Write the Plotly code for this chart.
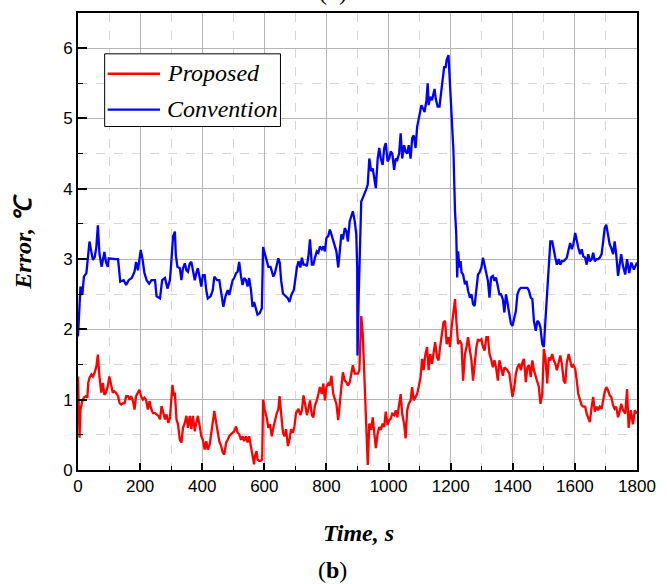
import plotly.graph_objects as go

# Time stamps (s) and temperature error (deg C) for the conventional controller
conv_t = [0, 8, 14, 19, 27, 33, 37, 43, 48, 54, 59, 64, 69, 76, 81, 85, 90, 96, 99, 110, 120, 129, 136, 147, 155, 163,
          173, 182, 187, 193, 198, 202, 208, 214, 221, 229, 237, 248, 253, 264, 271, 280, 288, 296, 301, 306, 312, 315,
          320, 328, 333, 338, 344, 349, 354, 360, 365, 370, 376, 381, 386, 392, 397, 402, 408, 413, 418, 427, 434, 439,
          448, 455, 461, 468, 475, 482, 487, 493, 498, 503, 509, 514, 519, 525, 530, 535, 541, 546, 551, 557, 562, 567,
          572, 578, 585, 592, 596, 601, 608, 613, 620, 629, 634, 640, 645, 650, 654, 660, 668, 676, 681, 687, 695, 700,
          705, 710, 716, 721, 726, 732, 737, 742, 747, 753, 758, 763, 769, 774, 779, 785, 790, 795, 800, 806, 811, 816,
          822, 827, 832, 838, 843, 848, 853, 859, 864, 869, 875, 880, 885, 891, 896, 899, 900, 904, 909, 912, 917, 922,
          928, 933, 938, 944, 949, 954, 959, 965, 970, 975, 981, 986, 991, 997, 1002, 1007, 1012, 1018, 1023, 1028,
          1034, 1039, 1044, 1050, 1055, 1060, 1065, 1071, 1076, 1081, 1087, 1092, 1097, 1103, 1106, 1111, 1116, 1122,
          1126, 1129, 1134, 1140, 1145, 1148, 1152, 1158, 1164, 1169, 1175, 1179, 1184, 1187, 1193, 1197, 1203, 1209,
          1214, 1218, 1221, 1224, 1228, 1232, 1235, 1240, 1246, 1251, 1256, 1262, 1267, 1272, 1277, 1283, 1288, 1293,
          1299, 1304, 1309, 1315, 1320, 1325, 1330, 1336, 1341, 1346, 1352, 1357, 1362, 1368, 1373, 1378, 1383, 1389,
          1394, 1399, 1405, 1410, 1415, 1421, 1426, 1436, 1447, 1452, 1458, 1463, 1468, 1474, 1479, 1484, 1489, 1495,
          1500, 1505, 1511, 1516, 1521, 1527, 1532, 1537, 1542, 1548, 1553, 1558, 1564, 1569, 1574, 1580, 1585, 1590,
          1595, 1601, 1606, 1611, 1617, 1622, 1627, 1633, 1638, 1643, 1648, 1654, 1659, 1664, 1670, 1675, 1680, 1686,
          1691, 1696, 1701, 1707, 1712, 1717, 1723, 1728, 1733, 1739, 1744, 1749, 1755, 1762, 1768, 1775, 1782, 1790,
          1800]
conv_err = [1.90, 2.61, 2.49, 2.75, 2.80, 3.13, 3.25, 3.10, 2.99, 3.03, 3.17, 3.48, 3.08, 2.89, 2.99, 3.10, 2.96, 2.89,
            3.01, 3.00, 3.00, 3.00, 2.68, 2.70, 2.63, 2.70, 2.73, 2.82, 2.96, 2.84, 2.99, 3.13, 2.99, 2.80, 2.70, 2.65,
            2.70, 2.70, 2.47, 2.44, 2.70, 2.73, 2.58, 2.70, 2.99, 3.32, 3.39, 3.06, 2.89, 2.87, 2.70, 2.87, 2.94, 2.84,
            2.82, 2.94, 2.96, 2.82, 2.70, 2.80, 2.87, 2.73, 2.61, 2.77, 2.77, 2.56, 2.44, 2.47, 2.56, 2.75, 2.70, 2.70,
            2.51, 2.32, 2.47, 2.56, 2.49, 2.63, 2.70, 2.73, 2.80, 2.82, 2.96, 2.75, 2.63, 2.73, 2.70, 2.61, 2.73, 2.56,
            2.32, 2.39, 2.30, 2.21, 2.23, 2.30, 3.17, 3.08, 2.96, 2.89, 2.89, 2.75, 2.80, 2.94, 3.01, 2.94, 2.70, 2.51,
            2.47, 2.44, 2.39, 2.49, 2.56, 2.75, 2.88, 2.97, 2.88, 3.02, 2.92, 2.92, 2.90, 3.04, 3.28, 2.92, 2.92, 3.02,
            3.11, 3.09, 3.18, 3.14, 3.18, 3.11, 3.30, 3.33, 3.42, 3.35, 3.25, 3.18, 3.11, 2.88, 3.14, 3.35, 3.28, 3.44,
            3.40, 3.25, 3.54, 3.63, 3.68, 3.54, 3.35, 2.88, 1.63, 2.50, 3.58, 3.82, 3.87, 3.92, 3.99, 4.06, 4.43, 4.25,
            4.29, 4.15, 4.01, 4.43, 4.58, 4.43, 4.34, 4.58, 4.65, 4.39, 4.43, 4.53, 4.50, 4.27, 4.43, 4.41, 4.50, 4.79,
            4.43, 4.62, 4.53, 4.50, 4.62, 4.43, 4.72, 4.76, 4.58, 4.88, 4.98, 5.09, 5.19, 5.14, 5.09, 5.26, 5.50, 5.19,
            5.31, 5.26, 5.40, 5.42, 5.28, 5.17, 5.17, 5.35, 5.61, 5.73, 5.73, 5.83, 5.90, 5.54, 5.09, 4.53, 3.68, 3.35,
            2.74, 3.11, 2.88, 2.97, 2.81, 2.78, 2.64, 2.69, 2.55, 2.45, 2.50, 2.36, 2.33, 2.59, 2.78, 2.81, 2.88, 3.02,
            2.92, 2.81, 2.69, 2.45, 2.74, 2.76, 2.69, 2.74, 2.59, 2.50, 2.50, 2.43, 2.24, 2.50, 2.38, 2.24, 2.08, 2.05,
            2.15, 2.26, 2.50, 2.57, 2.59, 2.59, 2.59, 2.55, 2.45, 2.43, 2.12, 1.98, 2.12, 2.10, 2.03, 1.79, 1.75, 2.12,
            2.50, 2.97, 3.25, 3.25, 3.11, 3.02, 2.92, 3.00, 2.92, 2.97, 2.97, 3.00, 3.02, 3.14, 3.23, 3.14, 3.21, 3.37,
            3.25, 3.16, 3.07, 3.14, 3.04, 3.02, 2.92, 3.07, 2.97, 3.00, 3.09, 2.97, 3.00, 3.00, 3.02, 3.07, 3.25, 3.44,
            3.49, 3.35, 3.21, 3.16, 3.07, 3.25, 3.07, 2.76, 2.92, 3.07, 2.90, 2.78, 3.00, 2.80, 2.95, 2.85, 2.95]

# Time stamps (s) and temperature error (deg C) for the proposed controller
prop_t = [0, 3, 5, 8, 14, 19, 25, 30, 33, 37, 43, 48, 53, 59, 64, 69, 75, 80, 85, 90, 96, 101, 106, 112, 117, 122, 129,
          134, 139, 145, 150, 155, 161, 166, 171, 177, 182, 187, 193, 198, 203, 209, 214, 219, 225, 230, 235, 241, 248,
          254, 259, 264, 269, 275, 280, 285, 291, 296, 301, 304, 309, 312, 317, 322, 328, 333, 338, 344, 349, 354, 360,
          365, 370, 376, 381, 386, 392, 397, 402, 408, 413, 418, 424, 429, 434, 439, 445, 450, 455, 461, 466, 471, 477,
          482, 487, 493, 498, 503, 509, 514, 519, 525, 530, 535, 541, 546, 551, 557, 562, 567, 570, 575, 578, 583, 588,
          593, 596, 601, 608, 613, 618, 624, 629, 634, 640, 645, 649, 654, 660, 665, 670, 676, 681, 686, 692, 697, 702,
          710, 716, 721, 726, 732, 737, 742, 747, 753, 758, 763, 769, 774, 779, 785, 790, 795, 800, 806, 811, 816, 822,
          827, 832, 838, 843, 848, 853, 859, 864, 869, 875, 880, 885, 891, 896, 901, 906, 912, 917, 922, 928, 933, 938,
          944, 949, 954, 959, 965, 970, 975, 981, 986, 991, 997, 1002, 1007, 1012, 1018, 1023, 1028, 1034, 1039, 1044,
          1050, 1055, 1060, 1065, 1071, 1076, 1081, 1087, 1092, 1097, 1103, 1108, 1113, 1118, 1124, 1129, 1134, 1140,
          1145, 1150, 1156, 1161, 1166, 1171, 1177, 1182, 1187, 1193, 1198, 1203, 1209, 1214, 1219, 1224, 1230, 1235,
          1240, 1246, 1251, 1256, 1262, 1267, 1272, 1277, 1283, 1288, 1293, 1299, 1304, 1309, 1315, 1320, 1325, 1330,
          1336, 1341, 1346, 1352, 1357, 1362, 1368, 1373, 1378, 1383, 1389, 1394, 1399, 1405, 1410, 1415, 1421, 1426,
          1431, 1436, 1442, 1447, 1452, 1458, 1463, 1468, 1474, 1479, 1484, 1489, 1495, 1500, 1505, 1511, 1516, 1521,
          1527, 1532, 1537, 1542, 1548, 1553, 1558, 1564, 1569, 1574, 1580, 1585, 1590, 1595, 1601, 1606, 1611, 1617,
          1622, 1627, 1633, 1638, 1643, 1648, 1654, 1659, 1664, 1670, 1675, 1680, 1686, 1691, 1696, 1701, 1707, 1712,
          1717, 1723, 1728, 1733, 1739, 1744, 1749, 1755, 1762, 1768, 1773, 1780, 1787, 1793, 1800]
prop_err = [1.33, 0.81, 0.46, 0.86, 0.98, 1.03, 1.05, 1.03, 1.24, 1.31, 1.36, 1.33, 1.38, 1.47, 1.64, 1.33, 1.10, 1.24,
            1.07, 1.10, 1.19, 1.33, 1.24, 1.10, 1.12, 1.10, 1.05, 0.95, 0.93, 0.95, 0.95, 1.05, 1.05, 1.00, 1.05, 0.98,
            0.86, 1.05, 1.10, 1.14, 1.05, 1.00, 1.03, 1.00, 0.86, 0.98, 0.88, 0.81, 0.81, 0.79, 0.77, 0.72, 0.91, 0.81,
            0.72, 0.79, 0.67, 0.74, 1.05, 1.21, 1.05, 1.10, 0.72, 0.65, 0.43, 0.39, 0.60, 0.67, 0.77, 0.60, 0.77, 0.58,
            0.77, 0.55, 0.67, 0.77, 0.62, 0.48, 0.43, 0.29, 0.41, 0.29, 0.36, 0.53, 0.62, 0.84, 0.67, 0.53, 0.41, 0.34,
            0.25, 0.22, 0.39, 0.43, 0.48, 0.51, 0.53, 0.55, 0.62, 0.53, 0.51, 0.43, 0.48, 0.41, 0.48, 0.39, 0.48, 0.34,
            0.22, 0.08, 0.20, 0.27, 0.15, 0.13, 0.13, 0.15, 1.00, 0.86, 0.74, 0.60, 0.65, 0.48, 0.60, 0.72, 0.81, 0.86,
            1.05, 0.81, 0.53, 0.48, 0.58, 0.34, 0.43, 0.58, 0.53, 0.62, 0.81, 0.87, 0.78, 0.85, 1.06, 0.92, 0.78, 0.87,
            0.99, 0.78, 0.75, 0.92, 0.99, 1.08, 1.18, 1.08, 1.23, 0.99, 1.18, 1.23, 1.20, 1.34, 1.08, 1.01, 0.94, 0.71,
            0.99, 1.18, 1.39, 1.27, 1.25, 1.20, 1.25, 1.37, 1.49, 1.37, 1.37, 1.37, 1.42, 2.19, 1.93, 1.27, 0.57, 0.07,
            0.66, 0.57, 0.75, 0.52, 0.31, 0.52, 0.61, 0.57, 0.66, 0.61, 0.83, 0.64, 0.71, 0.73, 0.80, 0.78, 0.85, 0.75,
            0.90, 1.08, 0.80, 0.66, 0.45, 0.85, 0.94, 0.99, 1.18, 0.99, 1.04, 1.08, 1.18, 1.32, 1.58, 1.42, 1.63, 1.75,
            1.42, 1.65, 1.51, 1.70, 1.82, 1.60, 1.56, 1.75, 1.93, 2.10, 2.12, 1.79, 1.89, 1.75, 2.03, 2.22, 2.43, 2.08,
            1.79, 1.84, 1.79, 1.27, 1.65, 1.75, 1.89, 1.70, 1.56, 1.27, 1.51, 1.75, 1.86, 1.84, 1.86, 1.75, 1.70, 1.89,
            1.89, 1.65, 1.58, 1.46, 1.56, 1.46, 1.27, 1.56, 1.46, 1.34, 1.46, 1.44, 1.42, 1.37, 1.23, 1.04, 1.18, 1.37,
            1.46, 1.51, 1.42, 1.53, 1.58, 1.25, 1.46, 1.49, 1.32, 1.56, 1.42, 1.32, 1.27, 1.18, 0.94, 1.08, 1.72, 1.60,
            1.23, 1.60, 1.56, 1.65, 1.56, 1.51, 1.42, 1.56, 1.63, 1.51, 1.27, 1.23, 1.53, 1.65, 1.56, 1.46, 1.49, 1.44,
            1.27, 1.08, 0.99, 0.92, 0.90, 0.90, 0.80, 0.75, 0.68, 0.90, 1.04, 0.83, 0.90, 0.85, 0.90, 0.87, 1.01, 1.11,
            1.18, 1.13, 1.06, 1.04, 0.92, 0.87, 0.90, 0.75, 0.83, 0.94, 0.85, 0.80, 1.15, 0.60, 0.85, 0.65, 0.85, 0.80]

series_names = ["Proposed", "Convention"]
series_colors = ["#ff0000", "#0000ff"]
x_title = "Time, s"
y_title = "Error, ℃"

W, H = 667, 584
L, R, T, B = 78, 23, 11, 114
PW, PH = W - L - R, H - T - B


def px_x(p):
    return (p - L) / PW


def px_y(p):
    return (H - B - p) / PH


fig = go.Figure()
fig.add_trace(go.Scatter(x=prop_t, y=prop_err, mode="lines", name=series_names[0],
                         line=dict(color=series_colors[0], width=2.3), showlegend=False))
fig.add_trace(go.Scatter(x=conv_t, y=conv_err, mode="lines", name=series_names[1],
                         line=dict(color=series_colors[1], width=2.3), showlegend=False))

tick_font = dict(family="Liberation Sans, Arial, sans-serif", size=17, color="black")
axis_common = dict(
    ticks="inside", tickwidth=1.5, tickcolor="black",
    showline=True, linecolor="black", linewidth=2, mirror=True,
    showgrid=True, gridcolor="#b4b4b4", gridwidth=1, zeroline=False,
    tickfont=tick_font,
)

fig.update_xaxes(range=[0, 1800], tick0=0, dtick=200, ticklen=7,
                 minor=dict(dtick=100, ticks="inside", ticklen=4, tickcolor="black", tickwidth=1.2,
                            showgrid=True, gridcolor="#d6d6d6", griddash="dash", gridwidth=1),
                 **axis_common)
fig.update_yaxes(range=[0, 6.5], tick0=0, dtick=1, ticklen=9,
                 minor=dict(dtick=0.5, ticks="inside", ticklen=5, tickcolor="black", tickwidth=1.2,
                            showgrid=True, gridcolor="#d6d6d6", griddash="dash", gridwidth=1),
                 **axis_common)

serif = "Liberation Serif, Times New Roman, serif"
shapes = [
    dict(type="rect", xref="paper", yref="paper", x0=px_x(105), x1=px_x(283), y0=px_y(125), y1=px_y(52),
         line=dict(color="black", width=1), fillcolor="white", layer="above"),
]
annotations = []
for i, (name, col) in enumerate(zip(series_names, series_colors)):
    ly = [72, 108][i]
    shapes.append(dict(type="line", xref="paper", yref="paper", x0=px_x(108), x1=px_x(161),
                       y0=px_y(ly), y1=px_y(ly), line=dict(color=col, width=2.3), layer="above"))
    annotations.append(dict(text=f"<i>{name}</i>", xref="paper", yref="paper", x=px_x(166), y=px_y(ly - 1),
                            xanchor="left", yanchor="middle", showarrow=False,
                            font=dict(family=serif, size=24, color="black")))

annotations += [
    dict(text=f"<b><i>{x_title}</i></b>", xref="paper", yref="paper", x=px_x(362), y=px_y(533),
         xanchor="center", yanchor="middle", showarrow=False, font=dict(family=serif, size=24, color="black")),
    dict(text=f"<b><i>{y_title}</i></b>", xref="paper", yref="paper", x=px_x(22), y=px_y(240),
         xanchor="center", yanchor="middle", textangle=-90, showarrow=False,
         font=dict(family=serif, size=24, color="black")),
    dict(text="(<b>b</b>)", xref="paper", yref="paper", x=px_x(336), y=px_y(570),
         xanchor="center", yanchor="middle", showarrow=False, font=dict(family=serif, size=24, color="black")),
    dict(text="(<b>a</b>)", xref="paper", yref="paper", x=px_x(336), y=px_y(-10),
         xanchor="center", yanchor="middle", showarrow=False, font=dict(family=serif, size=24, color="black")),
]

fig.update_layout(
    width=W, height=H,
    margin=dict(l=L, r=R, t=T, b=B),
    paper_bgcolor="white", plot_bgcolor="white",
    shapes=shapes, annotations=annotations,
    showlegend=False,
)

fig.write_html("out.html")
